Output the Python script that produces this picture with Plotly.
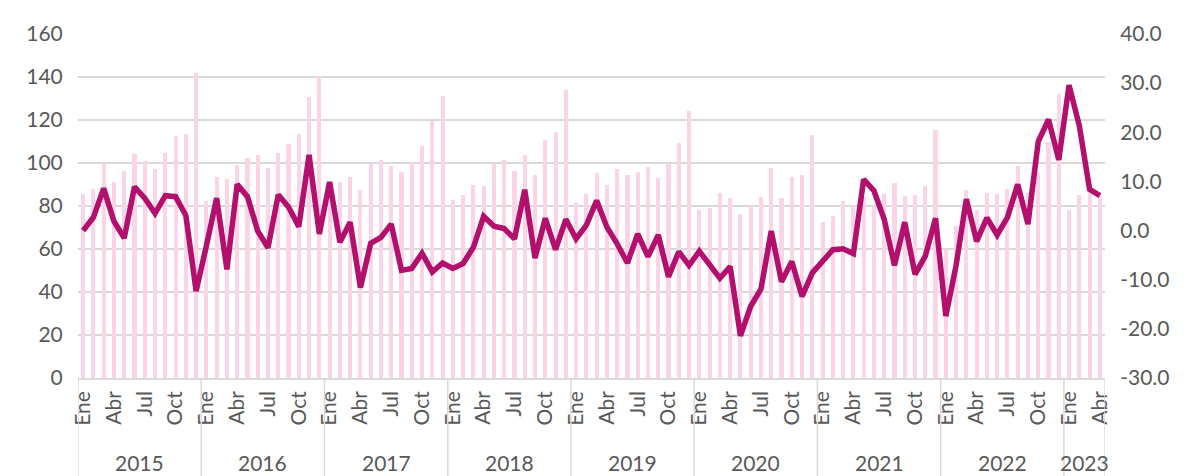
import plotly.graph_objects as go

years = [2015, 2016, 2017, 2018, 2019, 2020, 2021, 2022, 2023]
month_names = ["Ene", "Feb", "Mar", "Abr", "May", "Jun", "Jul", "Ago", "Sep", "Oct", "Nov", "Dic"]
shown_months = ["Ene", "Abr", "Jul", "Oct"]
months_per_year = [12, 12, 12, 12, 12, 12, 12, 12, 4]

bar_values = [
    85.5, 88, 100, 91, 96.5, 104, 101, 97, 104.5, 112.5, 113.5, 142,
    82.5, 93.5, 92.5, 99, 102.5, 103.5, 97.5, 104.5, 109, 113.5, 130.5, 140.5,
    88, 91, 93.5, 87.5, 100, 101.5, 98.5, 96, 100.5, 108, 119.5, 131,
    83, 85, 90, 89.5, 100, 101.5, 96.5, 103.5, 94.5, 110.5, 114.5, 134,
    81.5, 85.5, 95.5, 90, 97, 94.5, 96, 98, 93, 100, 109.5, 124,
    78, 79, 86, 83.5, 76.5, 80, 84, 97.5, 83.5, 93.5, 94.5, 113,
    72.5, 75.5, 82.5, 80, 84, 80, 85.5, 90.5, 84.5, 85, 89.5, 115.5,
    60, 70.5, 87.5, 78, 86, 85.5, 88, 98.5, 86, 96, 110, 132,
    78, 85, 88, 84.5,
]

line_values = [
    0, 2.7, 8.6, 1.9, -1.5, 8.9, 6.6, 3.5, 7.1, 6.9, 3.1, -12.3,
    -3.1, 6.6, -7.9, 9.4, 6.9, -0.1, -3.5, 7.3, 4.8, 0.8, 15.4, -0.7,
    9.9, -2.4, 1.7, -11.6, -2.6, -1.4, 1.3, -8.1, -7.7, -4.6, -8.4, -6.6,
    -7.7, -6.7, -3.4, 2.9, 0.9, 0.4, -1.7, 8.3, -5.6, 2.5, -3.9, 2.3,
    -1.7, 1.1, 6.1, 0.7, -2.7, -6.6, -0.7, -5.3, -0.9, -9.4, -4.3, -7.1,
    -4.2, -7.1, -9.7, -7.3, -21.4, -15.4, -11.9, -0.1, -10.4, -6.3, -13.4, -8.6,
    -6.3, -3.9, -3.7, -4.7, 10.4, 8.1, 2.3, -7.1, 1.7, -8.9, -5.2, 2.5,
    -17.4, -7.1, 6.4, -2.2, 2.6, -0.9, 2.7, 9.4, 1.3, 18.1, 22.6, 14.4,
    29.6, 21.3, 8.4, 7.1,
]

left_ticks = [0, 20, 40, 60, 80, 100, 120, 140, 160]
right_ticks = [-30, -20, -10, 0, 10, 20, 30, 40]
right_ticktext = [f"{v:.1f}" for v in right_ticks]

# build month index
x_idx = []
labels = []
year_start = []
i = 0
for y, n in zip(years, months_per_year):
    year_start.append(i)
    for m in range(n):
        x_idx.append(i)
        labels.append(month_names[m])
        i += 1
n_total = i

tickvals = [x for x, l in zip(x_idx, labels) if l in shown_months]
ticktext = [l for l in labels if l in shown_months]

FONT = "Lato"
GRAY = "#595959"
GRID = "#D9D9D9"

fig = go.Figure()
fig.add_trace(go.Bar(x=x_idx, y=bar_values, marker_color="#FCD4E8", width=0.4,
                     marker_line_width=0, yaxis="y"))
fig.add_trace(go.Scatter(x=x_idx, y=line_values, mode="lines",
                         line=dict(color="#B30F6C", width=5.5), yaxis="y2"))

shapes = []
bounds = year_start + [n_total]
for b in bounds:
    shapes.append(dict(type="line", xref="x", yref="paper", x0=b - 0.5, x1=b - 0.5,
                       y0=0, y1=-0.3, line=dict(color=GRID, width=1.5)))

annotations = []
for y, s, n in zip(years, year_start, months_per_year):
    annotations.append(dict(x=s + n / 2 - 0.5, y=0, xref="x", yref="paper",
                            text=str(y), showarrow=False, yshift=-84,
                            yanchor="middle", xanchor="center",
                            font=dict(family=FONT, size=21, color=GRAY)))

fig.update_layout(
    width=1203, height=476,
    margin=dict(l=70, r=106, t=20, b=106),
    plot_bgcolor="white", paper_bgcolor="white",
    showlegend=False, bargap=0,
    shapes=shapes, annotations=annotations,
    xaxis=dict(range=[-0.5, n_total - 0.5], tickvals=tickvals, ticktext=ticktext,
               tickangle=-90, showgrid=False, zeroline=False,
               showline=True, linecolor=GRID, linewidth=1.5,
               ticks="outside", ticklen=3, tickcolor="rgba(0,0,0,0)",
               tickfont=dict(family=FONT, size=21, color=GRAY)),
    yaxis=dict(range=[0, 160], tickvals=left_ticks, showgrid=True, gridcolor=GRID,
               gridwidth=1.5, zeroline=False, showline=False,
               ticks="outside", ticklen=10, tickcolor="rgba(0,0,0,0)",
               tickfont=dict(family=FONT, size=21, color=GRAY)),
    yaxis2=dict(range=[-30, 40], tickvals=right_ticks, ticktext=right_ticktext,
                overlaying="y", side="right",
                showgrid=False, zeroline=False, showline=False,
                ticks="outside", ticklen=10, tickcolor="rgba(0,0,0,0)",
                tickfont=dict(family=FONT, size=21, color=GRAY)),
)

fig.write_html("out.html")
